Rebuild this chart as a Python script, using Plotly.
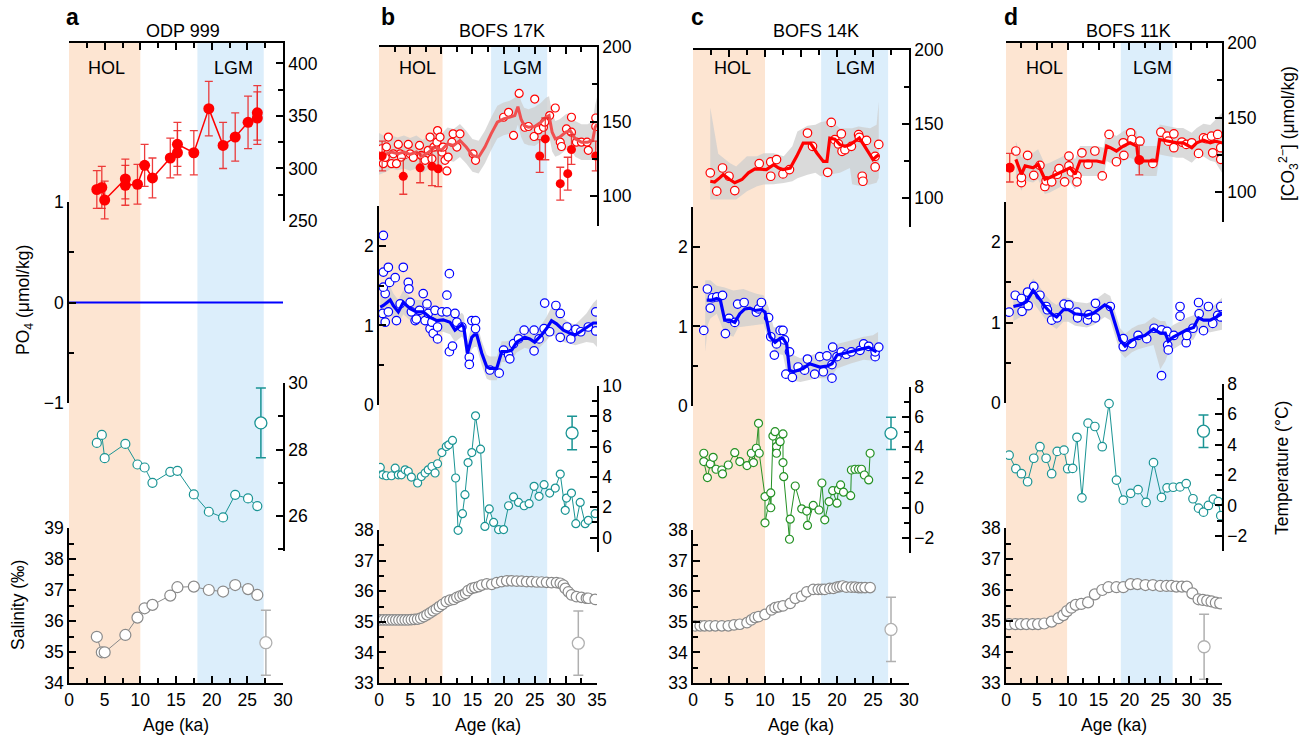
import plotly.graph_objects as go

W, H = 1304, 737

# ================= DATA =================
# ---- Panel a: ODP 999 ----
a_co3_age = [3.9, 4.6, 5.0, 7.9, 7.9, 9.6, 10.6, 11.7, 14.2, 15.2, 15.2, 17.5, 19.6, 21.6, 23.3, 25.1, 26.4, 26.4]
a_co3 = [280, 282, 270, 290, 284, 285, 303, 291, 310, 315, 323, 315, 357, 322, 330, 344, 348, 353]
a_co3_err = [18, 20, 18, 19, 19, 19, 20, 19, 19, 21, 21, 21, 26, 22, 23, 25, 25, 26]
a_po4_age = [0, 30]
a_po4 = [0, 0]
a_age = [3.9, 4.6, 5.0, 7.9, 9.6, 10.6, 11.7, 14.2, 15.2, 17.5, 19.6, 21.6, 23.3, 25.1, 26.4]
a_temp = [28.2, 28.44, 27.74, 28.17, 27.55, 27.46, 27.0, 27.33, 27.36, 26.65, 26.13, 25.96, 26.64, 26.53, 26.3]
a_sal = [35.49, 34.99, 34.99, 35.55, 36.11, 36.41, 36.52, 36.82, 37.09, 37.11, 37.0, 36.95, 37.16, 37.03, 36.84]
a_temp_err = [26.9, 28.8, 1.05]
a_sal_err = [27.6, 35.3, 1.05]

# ---- Panel b: BOFS 17K ----
b_co3_age = [0.4, 0.7, 1.0, 1.2, 1.5, 2.0, 2.3, 2.8, 3.1, 3.4, 3.6, 4.7, 5.0, 5.5, 6.5, 6.8, 7.4, 7.9, 8.2, 8.5,
             8.8, 9.3, 9.4, 9.8, 10.1, 10.3, 10.6, 10.9, 11.1, 11.7, 11.9, 12.5, 13.0, 15.1, 15.5, 20.0, 20.8, 21.6,
             22.5, 23.4, 24.0, 25.0, 24.9, 25.6, 26.4, 26.6, 27.4, 28.3, 29.1, 29.3, 30.1, 30.9, 30.9, 31.7, 32.5,
             33.4, 33.6, 34.8, 34.8]
b_co3 = [131.8, 121.8, 126, 133, 139.6, 121.8, 128.4, 121.8, 134.7, 128.4, 126.2, 134.7, 128.4, 126, 134, 127.3, 124,
         130.7, 139.6, 125, 132.9, 136.2, 144, 139.6, 129.6, 132.9, 124, 116.9, 126.2, 136.2, 141.8, 132.9, 141.8,
         128.4, 124, 152.9, 156.2, 140.7, 168.9, 146.2, 146.7, 165.1, 140, 144.4, 146.2, 149.6, 154, 159.1, 136.2,
         133.3, 145.1, 152.9, 142.9, 136.2, 136.2, 136.2, 130.7, 152.4, 146.7]
b_co3_line_age = [0, 1, 2, 3, 4, 5, 6, 7, 8, 9, 10, 11, 12, 13, 14, 15, 16, 17, 18, 19, 20, 21, 21.8, 22.3, 22.8,
                  23.3, 24, 25, 26, 26.8, 27.3, 27.8, 28.3, 29, 30, 30.7, 31.5, 32.5, 33.5, 34.3, 34.7, 35]
b_co3_line = [128.4, 128, 129.6, 128.4, 129.6, 128, 129.6, 126.7, 129.6, 132.9, 130.7, 135.1, 134, 137.3, 132.9,
              127.3, 126.2, 132.9, 141.8, 149.6, 151.8, 152.9, 154, 160, 151.8, 147.3, 146.2, 146.7, 149.6, 152.9,
              154, 142.9, 138.4, 139.6, 142.9, 144, 138.4, 136.2, 136.2, 137.3, 146.2, 148.4]
b_co3_hw = [14, 12, 11, 11, 11, 11, 11, 11, 11, 11, 11, 11, 11, 11, 11, 11, 11, 11, 11, 11,
            11, 11, 12, 12, 12, 12, 12, 13, 13, 13, 13, 13, 12, 12, 12, 12, 12, 12, 12, 13, 15, 18]
b_co3_fill_age = [0.5, 3.9, 6.6, 8.5, 9.5, 25.8, 26.7, 29.1, 30.3, 30.9, 34.8]
b_co3_fill = [126.9, 113.3, 119, 120, 118.4, 126.9, 138.4, 108.4, 115.1, 131.3, 126.9]
b_co3_fill_err = [10, 12, 10, 13, 12, 11, 14, 11, 11, 10, 10]
b_po4_age = [0.7, 0.7, 1.5, 1.0, 0.7, 1.7, 0.6, 1.0, 1.5, 2.6, 3.9, 2.8, 3.4, 4.7, 4.8, 5.0, 5.2, 5.8, 6.0, 6.5,
             7.1, 7.4, 7.7, 7.9, 8.2, 8.5, 8.7, 9.0, 9.4, 9.4, 10.1, 10.9, 10.9, 11.3, 11.3, 11.8, 12.2, 12.5, 13.3,
             14.5, 14.5, 14.9, 15.5, 15.5, 17.8, 19.3, 20.0, 20.8, 21.0, 21.6, 22.4, 23.3, 24.9, 24.9, 25.7, 26.5,
             26.6, 27.4, 28.4, 29.1, 29.1, 30.2, 30.8, 31.6, 32.4, 33.6, 34.8, 34.8]
b_po4 = [2.13, 1.67, 1.73, 1.40, 1.48, 1.54, 1.15, 1.04, 1.17, 1.60, 1.73, 1.06, 1.27, 1.54, 1.46, 1.29, 1.17, 1.06,
         1.08, 1.19, 1.40, 1.06, 1.27, 1.15, 0.96, 1.04, 0.90, 1.19, 0.98, 0.83, 1.17, 1.38, 1.17, 1.65, 0.67, 0.74,
         1.15, 1.04, 0.98, 0.60, 0.51, 1.06, 1.06, 0.96, 0.44, 0.40, 0.69, 0.63, 0.58, 0.77, 0.83, 0.94, 0.94, 0.68,
         0.83, 0.96, 1.28, 0.92, 1.25, 1.15, 0.85, 0.98, 0.83, 0.95, 0.92, 0.98, 1.17, 0.93]
b_po4_line_age = [0.2, 0.7, 1.8, 2.3, 3.1, 3.9, 5.0, 6.0, 7.1, 8.2, 9.3, 10.3, 11.4, 12.2, 13.3, 13.6, 14.2, 14.9,
                  15.3, 15.7, 16.5, 17.3, 17.8, 18.9, 19.7, 20.5, 21.3, 22.1, 23.4, 24.2, 25.0, 26.1, 26.9, 27.7,
                  28.5, 29.6, 30.7, 31.5, 32.3, 33.3, 34.4, 35.0]
b_po4_line = [1.23, 1.25, 1.32, 1.25, 1.17, 1.29, 1.21, 1.17, 1.17, 1.10, 1.06, 1.07, 1.04, 0.94, 1.01, 0.98, 0.65,
              0.85, 0.88, 0.88, 0.65, 0.48, 0.46, 0.46, 0.67, 0.67, 0.69, 0.79, 0.85, 0.83, 0.79, 0.88, 0.96, 1.06,
              1.02, 0.94, 0.90, 0.88, 0.92, 0.97, 1.03, 1.03]
b_po4_hw = [0.25, 0.2, 0.17, 0.15, 0.15, 0.15, 0.15, 0.15, 0.15, 0.15, 0.15, 0.15, 0.15, 0.15, 0.15, 0.15, 0.15,
            0.15, 0.15, 0.15, 0.15, 0.15, 0.15, 0.15, 0.13, 0.13, 0.13, 0.13, 0.13, 0.13, 0.13, 0.13, 0.15, 0.17,
            0.17, 0.15, 0.13, 0.13, 0.15, 0.18, 0.25, 0.3]
b_temp_age = [0.2, 0.6, 1.2, 2.0, 2.6, 3.1, 3.6, 4.2, 4.7, 5.2, 6.2, 6.8, 7.4, 7.9, 8.5, 9.0, 9.4, 10.1, 10.8, 11.2,
              11.8, 12.3, 12.7, 13.4, 13.8, 14.3, 14.9, 15.5, 16.3, 17.0, 17.7, 18.4, 19.2, 20.0, 20.8, 21.6, 22.4,
              23.3, 24.1, 24.9, 25.7, 26.5, 27.4, 28.3, 29.1, 29.9, 30.1, 30.9, 31.6, 32.3, 33.1, 33.6, 34.7]
b_temp = [4.63, 4.14, 4.08, 4.08, 4.58, 4.14, 4.14, 4.47, 4.36, 3.99, 3.6, 4.03, 4.26, 4.47, 4.69, 4.26, 4.87, 5.61,
          6.01, 6.12, 6.41, 3.93, 0.48, 1.58, 2.83, 4.95, 5.61, 8.03, 5.83, 0.74, 1.89, 1.0, 0.53, 0.53, 2.1, 2.68,
          2.32, 2.1, 2.24, 3.38, 2.72, 3.49, 2.94, 3.27, 4.19, 1.8, 2.61, 2.94, 0.92, 2.32, 0.92, 1.14, 1.58]
b_sal_age = [0.2, 0.7, 1.2, 1.7, 2.2, 2.7, 3.2, 3.7, 4.2, 4.7, 5.2, 5.7, 6.2, 6.7, 7.2, 7.7, 8.2, 8.7, 9.2, 9.7, 10.2,
             10.8, 11.4, 12.0, 12.5, 13.0, 13.5, 13.9, 14.3, 14.9, 15.4, 16.0, 16.5, 17.3, 18.1, 18.9, 19.7, 20.5,
             21.3, 22.1, 22.9, 23.7, 24.5, 25.3, 26.1, 26.9, 27.7, 28.5, 29.1, 29.6, 29.9, 30.4, 30.9, 31.7, 32.5,
             33.3, 33.6, 34.7]
b_sal = [35.06, 35.06, 35.06, 35.06, 35.06, 35.06, 35.06, 35.06, 35.06, 35.06, 35.07, 35.08, 35.09, 35.12, 35.17,
         35.23, 35.29, 35.36, 35.42, 35.5, 35.57, 35.66, 35.71, 35.73, 35.8, 35.84, 35.88, 35.93, 36.02, 36.09,
         36.12, 36.15, 36.2, 36.24, 36.22, 36.28, 36.31, 36.34, 36.34, 36.33, 36.33, 36.31, 36.31, 36.3, 36.3,
         36.29, 36.28, 36.28, 36.26, 36.2, 36.09, 35.98, 35.88, 35.82, 35.8, 35.77, 35.77, 35.73]
b_temp_err = [31.0, 6.9, 1.1]
b_sal_err = [32.0, 34.3, 1.05]

# ---- Panel c: BOFS 14K ----
c_co3_age = [2.4, 3.3, 4.1, 5.0, 5.8, 9.2, 10.8, 10.8, 11.6, 12.5, 13.4, 15.9, 16.6, 18.7, 19.2, 19.7, 20.2, 20.6,
             20.7, 21.1, 22.0, 23.0, 23.1, 24.1, 23.5, 23.6, 25.3, 25.3, 25.8]
c_co3 = [116.7, 104.3, 120, 114.4, 104.7, 123, 114.4, 124.1, 125.7, 116, 118.9, 143.7, 134.7, 117.1, 150.9, 139.2,
         136.3, 143.2, 131.3, 132.4, 134.7, 142.6, 140.8, 138.7, 114.4, 111, 120.7, 127.9, 136]
c_co3_line_age = [2.4, 3.0, 3.7, 4.2, 5.1, 5.8, 6.8, 7.7, 8.6, 9.3, 10.2, 11.2, 11.9, 12.5, 13.5, 14.4, 15.3, 16.3,
                  17.2, 18.1, 18.6, 19.0, 19.7, 20.4, 21.1, 21.8, 22.5, 23.1, 23.7, 24.4, 25.0, 25.5, 25.8]
c_co3_line = [111, 110.5, 113.3, 115.5, 112.2, 110, 112.2, 116.7, 119.4, 119.4, 118.9, 122.3, 120, 118.9, 120, 127.9,
              136.9, 136.9, 130.2, 124.5, 124.5, 140.3, 139.6, 135.8, 134.7, 135.8, 138.1, 140.3, 135.8, 130.2,
              125.7, 127.9, 129]
c_co3_band_age = [2.4, 3.5, 5.1, 6.0, 7.5, 8.9, 9.8, 11.2, 12.6, 13.8, 14.5, 15.9, 17.0, 17.7, 19.1, 20.4, 21.8,
                  22.1, 23.0, 24.6, 25.5, 25.8]
c_co3_band_hi = [161, 129.7, 123.4, 121, 127.9, 127.9, 130, 130, 127.9, 134.7, 144.8, 148.6, 149.3, 151, 152.3, 147,
                 147, 147, 148.2, 147, 149.3, 165]
c_co3_band_lo = [98.6, 98.6, 98.6, 98.6, 104.3, 107.7, 108.8, 109, 109.9, 111, 113, 115.5, 116.7, 114.4, 115.5,
                 116.7, 120, 109, 108, 108.8, 110, 113.3]
c_po4_age = [1.5, 2.0, 2.4, 2.7, 3.3, 4.1, 4.5, 5.0, 5.8, 6.2, 7.1, 8.8, 9.1, 9.5, 10.5, 10.8, 11.3, 11.6, 12.1, 12.5,
             12.7, 13.4, 12.9, 13.8, 14.6, 15.5, 15.9, 16.9, 17.6, 18.1, 18.6, 19.3, 19.4, 19.3, 20.0, 20.6, 21.3,
             22.0, 23.2, 23.7, 24.4, 25.3, 25.3, 25.8]
c_po4 = [0.95, 1.47, 1.23, 1.36, 1.37, 1.39, 0.91, 1.10, 1.05, 1.28, 1.30, 1.18, 1.22, 1.30, 1.11, 0.87, 0.64, 0.78,
         0.95, 0.95, 0.83, 0.68, 0.40, 0.36, 0.49, 0.45, 0.59, 0.40, 0.62, 0.43, 0.63, 0.35, 0.74, 0.52, 0.62, 0.68,
         0.65, 0.68, 0.70, 0.78, 0.75, 0.62, 0.68, 0.74]
c_po4_line_age = [1.9, 2.6, 3.3, 3.8, 4.4, 5.1, 5.8, 6.5, 7.2, 7.9, 8.6, 9.5, 10.0, 10.7, 11.4, 12.1, 12.5, 13.0, 13.4,
                  13.9, 14.6, 15.3, 16.2, 16.9, 17.6, 18.6, 19.3, 20.0, 20.9, 21.8, 22.7, 23.7, 24.4, 25.1, 25.5]
c_po4_line = [1.33, 1.33, 1.35, 1.33, 1.08, 1.08, 1.05, 1.16, 1.22, 1.23, 1.2, 1.21, 1.18, 0.87, 0.80, 0.85, 0.85,
              0.78, 0.45, 0.43, 0.45, 0.47, 0.53, 0.51, 0.49, 0.50, 0.53, 0.64, 0.66, 0.68, 0.70, 0.73, 0.74, 0.70,
              0.68]
c_po4_band_age = [1.7, 2.1, 2.4, 3.3, 4.4, 5.6, 6.3, 7.0, 7.9, 8.8, 9.8, 10.5, 11.2, 11.6, 12.5, 13.2, 13.5, 14.9,
                  17.2, 18.6, 19.0, 20.0, 21.8, 23.7, 25.0, 25.7]
c_po4_band_hi = [1.58, 1.58, 1.58, 1.51, 1.49, 1.45, 1.46, 1.47, 1.44, 1.41, 1.39, 1.24, 0.99, 0.99, 1.01, 0.85, 0.66,
                 0.6, 0.66, 0.68, 0.7, 0.78, 0.82, 0.87, 0.89, 0.93]
c_po4_band_lo = [0.68, 1.03, 1.1, 1.16, 0.91, 0.87, 0.99, 1.0, 1.01, 1.02, 1.03, 0.83, 0.72, 0.66, 0.64, 0.33, 0.32,
                 0.30, 0.35, 0.35, 0.35, 0.47, 0.53, 0.58, 0.57, 0.58]
c_temp_age = [1.5, 1.5, 2.0, 2.4, 2.8, 3.2, 4.0, 4.1, 4.9, 5.8, 6.5, 7.5, 8.1, 8.4, 8.8, 9.1, 9.2, 10.0, 10.0, 10.8,
              10.8, 11.1, 11.4, 11.6, 11.6, 12.1, 12.5, 12.5, 12.6, 13.4, 13.5, 14.2, 15.1, 15.8, 15.9, 16.7, 17.5,
              17.9, 18.3, 18.9, 19.4, 20.0, 20.2, 20.5, 20.9, 21.9, 22.0, 22.5, 23.0, 23.4, 23.8, 24.4, 24.6]
c_temp = [3.61, 3.06, 2.0, 2.9, 3.34, 2.55, 2.5, 2.24, 2.83, 3.65, 3.06, 2.79, 3.61, 2.99, 3.94, 5.59, 3.61, 0.74,
          -1.0, 0.98, 0.0, 4.75, 5.04, 4.05, 3.61, 4.38, 4.89, 2.99, 2.06, -2.09, -0.76, 1.44, -0.07, -0.22, -1.17,
          0.15, -0.15, 1.64, -0.8, 0.41, 1.13, 0.3, 1.2, 1.51, 1.03, 0.8, 2.5, 2.55, 2.55, 2.55, 2.17, 1.84, 3.61]
c_sal_age = [0.3, 1.0, 1.6, 2.3, 3.1, 4.0, 4.9, 5.7, 6.5, 7.5, 8.1, 8.6, 9.1, 10.0, 10.9, 11.4, 11.9, 12.5, 13.5, 14.2,
             15.1, 15.8, 16.7, 17.4, 17.9, 18.3, 19.0, 19.5, 20.0, 20.4, 20.8, 21.3, 22.0, 22.5, 23.0, 23.4, 23.9, 24.6]
c_sal = [34.87, 34.87, 34.87, 34.87, 34.87, 34.87, 34.87, 34.9, 34.92, 34.97, 35.06, 35.14, 35.17, 35.24, 35.39,
         35.46, 35.49, 35.52, 35.6, 35.77, 35.84, 35.98, 36.06, 36.06, 36.06, 36.06, 36.09, 36.09, 36.13, 36.15,
         36.17, 36.13, 36.13, 36.13, 36.12, 36.12, 36.12, 36.12]
c_temp_err = [27.5, 4.93, 1.07]
c_sal_err = [27.5, 34.75, 1.05]

# ---- Panel d: BOFS 11K ----
d_co3_age = [1.6, 2.5, 2.5, 3.5, 4.5, 5.5, 6.3, 6.5, 7.4, 8.3, 8.6, 9.5, 10.2, 10.2, 10.6, 11.5, 11.5, 12.3, 13.3,
             14.4, 15.6, 16.7, 17.9, 19.0, 19.1, 20.2, 20.4, 21.7, 23.8, 25.1, 26.1, 26.3, 27.2, 27.2, 28.5, 29.2,
             30.1, 31.2, 32.0, 32.5, 33.3, 33.5, 34.3, 34.8, 34.8]
d_co3 = [127.6, 106.4, 109.8, 124.7, 111.3, 118, 103.8, 107.6, 106.9, 112, 115.8, 106.9, 124.2, 117.6, 113.6, 110.9,
         106.9, 126.4, 118.7, 127.6, 110.9, 138.7, 120.4, 133.1, 124.7, 139.8, 135.3, 134.2, 119.3, 140.2, 137.6,
         134.2, 139.1, 129.8, 133.6, 132, 133.1, 126, 136.4, 135.8, 137.6, 126.4, 138.7, 122, 129.8]
d_co3_line_age = [1.6, 2.5, 3.1, 4.4, 5.2, 6.3, 7.1, 8.2, 9.6, 10.4, 11.2, 12.0, 13.3, 14.7, 15.8, 16.3, 16.9, 17.9,
                  19.0, 20.1, 21.2, 21.4, 22.3, 23.6, 24.4, 24.9, 26.1, 27.7, 28.7, 30.1, 30.9, 32.0, 33.1, 33.9, 35.0]
d_co3_line = [122, 112, 117.6, 116.4, 118.7, 108.7, 109.8, 112, 115.3, 116.4, 112, 120.9, 120.9, 120.9, 119.8, 130.9,
              129.8, 127.6, 130.9, 133.1, 130.9, 123.1, 120.9, 120.9, 120.9, 135.3, 134.2, 133.1, 133.1, 129.8,
              133.1, 134.9, 133.1, 134.2, 133.1]
d_co3_hw = [12, 11, 10, 10, 10, 10, 10, 10, 10, 10, 10, 10, 10, 10, 10, 10, 10, 10, 10, 10,
            10, 10, 10, 10, 10, 10, 10, 10, 10, 10, 10, 11, 12, 14, 20]
d_co3_fill_age = [0.6, 21.6]
d_co3_fill = [116.4, 121.6]
d_co3_fill_err = [9.6, 10]
d_po4_age = [0.5, 1.5, 2.5, 2.6, 3.5, 3.6, 4.5, 5.5, 6.5, 6.7, 7.4, 8.3, 9.4, 10.2, 11.5, 11.6, 13.2, 13.4, 14.5,
             14.5, 16.9, 19.0, 19.0, 20.4, 21.4, 22.8, 24.0, 25.2, 25.2, 26.1, 26.2, 26.3, 27.2, 28.2, 28.2, 29.2,
             29.3, 30.3, 31.2, 31.3, 32.0, 32.8, 33.5, 34.3, 34.8, 34.8]
d_po4 = [1.13, 1.34, 1.30, 1.14, 1.38, 1.21, 1.45, 1.34, 1.2, 1.16, 1.03, 1.06, 1.23, 1.22, 1.13, 1.06, 1.03, 1.1,
         1.06, 1.24, 1.2, 0.8, 0.7, 0.74, 0.84, 0.8, 0.93, 0.91, 0.34, 0.89, 0.72, 0.66, 0.84, 1.2, 1.08, 0.75, 0.84,
         0.93, 1.25, 1.11, 0.9, 1.2, 0.99, 1.09, 1.2, 1.07]
d_po4_line_age = [1.2, 2.3, 3.3, 4.4, 5.2, 6.3, 7.4, 8.2, 9.3, 10.1, 11.2, 12.0, 13.1, 14.2, 15.2, 16.0, 16.9, 17.7,
                  18.5, 19.3, 20.4, 21.4, 22.5, 23.9, 25.0, 25.8, 26.3, 27.1, 28.2, 29.3, 30.4, 31.2, 32.0, 33.1,
                  34.1, 35.0]
d_po4_line = [1.2, 1.22, 1.26, 1.4, 1.32, 1.2, 1.11, 1.07, 1.16, 1.16, 1.11, 1.1, 1.09, 1.12, 1.18, 1.22, 1.18, 0.99,
              0.78, 0.71, 0.78, 0.82, 0.84, 0.92, 0.87, 0.87, 0.77, 0.82, 0.87, 0.91, 0.94, 1.06, 1.03, 1.03, 1.07,
              1.11]
d_po4_hw_up = [0.18, 0.15, 0.15, 0.15, 0.15, 0.15, 0.15, 0.15, 0.15, 0.15, 0.15, 0.15, 0.15, 0.15, 0.15, 0.15, 0.15,
               0.15, 0.15, 0.15, 0.15, 0.15, 0.15, 0.15, 0.15, 0.15, 0.15, 0.15, 0.15, 0.15, 0.15, 0.15, 0.15, 0.15,
               0.17, 0.2]
d_po4_hw_dn = [0.18, 0.15, 0.15, 0.15, 0.15, 0.15, 0.15, 0.15, 0.15, 0.15, 0.15, 0.15, 0.15, 0.15, 0.15, 0.15, 0.15,
               0.15, 0.15, 0.15, 0.15, 0.15, 0.15, 0.2, 0.45, 0.35, 0.15, 0.15, 0.15, 0.15, 0.15, 0.15, 0.15, 0.15,
               0.17, 0.2]
d_temp_age = [0.5, 1.6, 2.5, 3.5, 4.5, 5.5, 6.5, 7.4, 8.3, 9.4, 10.0, 10.8, 11.5, 12.3, 13.3, 14.4, 15.6, 16.7, 17.9,
              19.0, 20.2, 21.4, 22.7, 23.9, 25.2, 26.1, 27.1, 28.2, 29.2, 30.3, 31.2, 32.0, 32.8, 33.6, 34.4, 34.8]
d_temp = [3.31, 2.42, 2.09, 1.56, 3.11, 3.87, 3.11, 2.09, 3.56, 3.64, 2.42, 2.44, 4.49, 0.5, 5.42, 5.2, 3.87, 6.71,
          1.67, 0.35, 0.8, 1.04, 0.2, 2.82, 0.53, 1.16, 1.2, 1.22, 1.44, 0.44, -0.18, -0.44, 0.0, 0.42, 0.25, -0.67]
d_sal_age = [0.5, 1.5, 2.4, 3.3, 4.3, 5.2, 6.2, 7.4, 8.5, 9.3, 9.9, 10.6, 11.3, 12.2, 13.3, 14.4, 15.6, 16.6, 17.9,
             19.0, 20.2, 21.3, 22.6, 23.8, 25.0, 26.0, 26.8, 27.6, 28.5, 29.3, 30.2, 31.2, 31.9, 32.6, 33.3, 34.0, 34.7]
d_sal = [34.9, 34.9, 34.9, 34.9, 34.9, 34.9, 34.92, 34.98, 35.09, 35.19, 35.32, 35.43, 35.52, 35.55, 35.6, 35.86,
         36.0, 36.09, 36.09, 36.09, 36.19, 36.19, 36.16, 36.16, 36.13, 36.13, 36.13, 36.11, 36.11, 36.11, 35.89, 35.7,
         35.68, 35.66, 35.63, 35.59, 35.57]
d_temp_err = [32.0, 4.89, 1.07]
d_sal_err = [32.1, 34.17, 1.05]

# Period spans (ka) per panel and labels
hol_spans = [[0, 10], [0, 10.2], [0, 10], [0, 9.9]]
lgm_spans = [[18, 27.3], [18, 27], [17.8, 27.1], [18.6, 27]]
panel_letters = ['a', 'b', 'c', 'd']
panel_titles = ['ODP 999', 'BOFS 17K', 'BOFS 14K', 'BOFS 11K']

# ================= STYLE / LAYOUT =================
RED = '#FF0000'
BLUE = '#0000FF'
TEAL = '#1A9494'
GREEN = '#249124'
GRAY = '#8A8A8A'
ERRGRAY = '#B0B0B0'
BAND = 'rgba(205,205,205,0.75)'
HOLC = '#FDE5D2'
LGMC = '#DCEEFB'
FONT = 'Liberation Sans, Arial, Helvetica, sans-serif'
FS = 17.5

# pixel geometry of each panel (layout, not data)
geo = [
    dict(x=(69, 283), xr=[0, 30], co3=(43, 221), co3r=[250, 419.5], po4=(202, 403), po4r=[-1, 1],
         tmp=(383, 551), tmpr=[24.95, 30], sal=(528, 683), salr=[34, 39], hol_lab=5.3, lgm_lab=23.0),
    dict(x=(379, 597), xr=[0, 35], co3=(47, 226), co3r=[80, 200], po4=(206, 405), po4r=[0, 2.5],
         tmp=(386, 552), tmpr=[-0.95, 10], sal=(530, 683), salr=[33, 38], hol_lab=6.2, lgm_lab=23.0),
    dict(x=(693, 909), xr=[0, 30], co3=(50, 227), co3r=[80, 200], po4=(207, 406), po4r=[0, 2.5],
         tmp=(387, 553), tmpr=[-3, 8], sal=(530, 683), salr=[33, 38], hol_lab=5.5, lgm_lab=22.6),
    dict(x=(1006, 1222), xr=[0, 35], co3=(43, 222), co3r=[80, 200], po4=(202, 403), po4r=[0, 2.5],
         tmp=(384, 551), tmpr=[-3, 8], sal=(528, 683), salr=[33, 38], hol_lab=6.2, lgm_lab=23.7),
]


def dx(a, b):
    return [a / W, b / W]


def dy(top, bot):
    return [1 - bot / H, 1 - top / H]


def ref(p, n):
    return p if n == 1 else f'{p}{n}'


def lkey(p, n):
    return f'{p}axis' if n == 1 else f'{p}axis{n}'


fig = go.Figure()
layout = {}
shapes = []
annotations = []

axis_common = dict(showline=True, linecolor='black', linewidth=1.5, ticks='inside', ticklen=7, tickwidth=1.5,
                   tickcolor='black', showgrid=False, zeroline=False, automargin=False,
                   tickfont=dict(size=FS, family=FONT, color='black'), fixedrange=True)


def minor(d):
    return dict(dtick=d, ticks='inside', ticklen=5, tickwidth=1.5, tickcolor='black', showgrid=False)


def txt(text, x, y, xref='paper', size=FS, angle=0):
    annotations.append(dict(text=text, xref=xref, yref='paper', x=x, y=y, xanchor='center', yanchor='middle',
                            textangle=angle, showarrow=False, font=dict(size=size, family=FONT, color='black')))


def open_markers(xa, ya, x, y, color, size=8, mode='markers', lw=1.0):
    fig.add_trace(go.Scatter(x=x, y=y, xaxis=xa, yaxis=ya, mode=mode, line=dict(color=color, width=lw),
                             marker=dict(symbol='circle', size=size, color='white', line=dict(color=color, width=1.2)),
                             showlegend=False, hoverinfo='skip'))


def band(xa, ya, x, lo, hi):
    fig.add_trace(go.Scatter(x=list(x) + list(x)[::-1], y=list(hi) + list(lo)[::-1], xaxis=xa, yaxis=ya,
                             mode='lines', fill='toself', fillcolor=BAND, line=dict(width=0),
                             showlegend=False, hoverinfo='skip'))


def smooth(xa, ya, x, y, color, width=3.2):
    fig.add_trace(go.Scatter(x=x, y=y, xaxis=xa, yaxis=ya, mode='lines', line=dict(color=color, width=width),
                             showlegend=False, hoverinfo='skip'))


def filled_err(xa, ya, x, y, err, size=10, mode='markers', lw=1.5):
    fig.add_trace(go.Scatter(x=x, y=y, xaxis=xa, yaxis=ya, mode=mode, line=dict(color=RED, width=lw),
                             marker=dict(size=size, color=RED),
                             error_y=dict(type='data', array=err, color='rgba(235,40,40,0.9)', thickness=1.3, width=4),
                             showlegend=False, hoverinfo='skip'))


def err_point(xa, ya, e, color, size=12):
    fig.add_trace(go.Scatter(x=[e[0]], y=[e[1]], xaxis=xa, yaxis=ya, mode='markers',
                             marker=dict(size=size, color='white', line=dict(color=color, width=1.3)),
                             error_y=dict(type='data', array=[e[2]], color=color, thickness=1.5, width=5),
                             showlegend=False, hoverinfo='skip'))


for i, g in enumerate(geo):
    xb, xt = 2 * i + 1, 2 * i + 2
    yc, yp, yt, ys = 4 * i + 1, 4 * i + 2, 4 * i + 3, 4 * i + 4
    XB, XT = ref('x', xb), ref('x', xt)
    YC, YP, YT, YS = ref('y', yc), ref('y', yp), ref('y', yt), ref('y', ys)
    xd = dx(*g['x'])
    layout[lkey('x', xb)] = dict(domain=xd, range=g['xr'], anchor=YS, dtick=5, tick0=0, minor=minor(2.5),
                                 **axis_common)
    layout[lkey('x', xt)] = dict(domain=xd, range=g['xr'], anchor=YC, side='top', dtick=5, tick0=0,
                                 minor=minor(2.5), showticklabels=False, **axis_common)
    layout[lkey('y', yc)] = dict(domain=dy(*g['co3']), range=g['co3r'], anchor=XB, side='right', dtick=50, tick0=0,
                                 minor=minor(25), **axis_common)
    layout[lkey('y', yp)] = dict(domain=dy(*g['po4']), range=g['po4r'], anchor=XB, side='left', dtick=1, tick0=0,
                                 minor=minor(0.5), **axis_common)
    layout[lkey('y', yt)] = dict(domain=dy(*g['tmp']), range=g['tmpr'], anchor=XB, side='right', dtick=2, tick0=0,
                                 minor=minor(1), **axis_common)
    layout[lkey('y', ys)] = dict(domain=dy(*g['sal']), range=g['salr'], anchor=XB, side='left', dtick=1, tick0=0,
                                 minor=minor(0.5), **axis_common)
    fig.add_trace(go.Scatter(x=[None], y=[None], xaxis=XT, yaxis=YC, showlegend=False, hoverinfo='skip'))

    top_px = g['co3'][0]
    for span, col in ((hol_spans[i], HOLC), (lgm_spans[i], LGMC)):
        shapes.append(dict(type='rect', xref=XB, yref='paper', x0=span[0], x1=span[1], y0=1 - 683 / H,
                           y1=1 - top_px / H, fillcolor=col, line=dict(width=0), layer='below'))
    txt('HOL', g['hol_lab'], 1 - 68 / H, xref=XB, size=18)
    txt('LGM', g['lgm_lab'], 1 - 68 / H, xref=XB, size=18)
    lx = {0: 72, 1: 388, 2: 697, 3: 1011}[i]
    txt(f'<b>{panel_letters[i]}</b>', lx / W, 1 - 17 / H, size=23)
    tx = {0: 183, 1: 502, 2: 816, 3: 1128}[i]
    txt(panel_titles[i], tx / W, 1 - 31 / H, size=18)
    txt('Age (ka)', (xd[0] + xd[1]) / 2, 1 - 725 / H, size=FS)

    if i == 0:
        filled_err(XB, YC, a_co3_age, a_co3, a_co3_err, size=11, mode='lines+markers')
        smooth(XB, YP, a_po4_age, a_po4, BLUE, width=2.2)
        open_markers(XB, YT, a_age, a_temp, TEAL, size=9, mode='lines+markers')
        open_markers(XB, YS, a_age, a_sal, GRAY, size=11, mode='lines+markers')
        err_point(XB, YT, a_temp_err, TEAL)
        err_point(XB, YS, a_sal_err, ERRGRAY)
    elif i == 1:
        band(XB, YC, b_co3_line_age, [v - h for v, h in zip(b_co3_line, b_co3_hw)],
             [v + h for v, h in zip(b_co3_line, b_co3_hw)])
        open_markers(XB, YC, b_co3_age, b_co3, RED, size=8)
        smooth(XB, YC, b_co3_line_age, b_co3_line, '#F05050', width=3)
        filled_err(XB, YC, b_co3_fill_age, b_co3_fill, b_co3_fill_err, size=9)
        band(XB, YP, b_po4_line_age, [v - h for v, h in zip(b_po4_line, b_po4_hw)],
             [v + h for v, h in zip(b_po4_line, b_po4_hw)])
        open_markers(XB, YP, b_po4_age, b_po4, BLUE, size=8.5)
        smooth(XB, YP, b_po4_line_age, b_po4_line, BLUE, width=3.2)
        open_markers(XB, YT, b_temp_age, b_temp, TEAL, size=8, mode='lines+markers')
        open_markers(XB, YS, b_sal_age, b_sal, GRAY, size=10.5, mode='lines+markers')
        err_point(XB, YT, b_temp_err, TEAL)
        err_point(XB, YS, b_sal_err, ERRGRAY)
    elif i == 2:
        band(XB, YC, c_co3_band_age, c_co3_band_lo, c_co3_band_hi)
        open_markers(XB, YC, c_co3_age, c_co3, RED, size=8.5)
        smooth(XB, YC, c_co3_line_age, c_co3_line, RED, width=3.2)
        band(XB, YP, c_po4_band_age, c_po4_band_lo, c_po4_band_hi)
        open_markers(XB, YP, c_po4_age, c_po4, BLUE, size=8.5)
        smooth(XB, YP, c_po4_line_age, c_po4_line, BLUE, width=3.2)
        open_markers(XB, YT, c_temp_age, c_temp, GREEN, size=8, mode='lines+markers')
        open_markers(XB, YS, c_sal_age, c_sal, GRAY, size=10.5, mode='lines+markers')
        err_point(XB, YT, c_temp_err, TEAL)
        err_point(XB, YS, c_sal_err, ERRGRAY)
    else:
        band(XB, YC, d_co3_line_age, [v - h for v, h in zip(d_co3_line, d_co3_hw)],
             [v + h for v, h in zip(d_co3_line, d_co3_hw)])
        open_markers(XB, YC, d_co3_age, d_co3, RED, size=8.5)
        smooth(XB, YC, d_co3_line_age, d_co3_line, RED, width=3.2)
        filled_err(XB, YC, d_co3_fill_age, d_co3_fill, d_co3_fill_err, size=10)
        band(XB, YP, d_po4_line_age, [v - h for v, h in zip(d_po4_line, d_po4_hw_dn)],
             [v + h for v, h in zip(d_po4_line, d_po4_hw_up)])
        open_markers(XB, YP, d_po4_age, d_po4, BLUE, size=8.5)
        smooth(XB, YP, d_po4_line_age, d_po4_line, BLUE, width=3.2)
        open_markers(XB, YT, d_temp_age, d_temp, TEAL, size=8.5, mode='lines+markers')
        open_markers(XB, YS, d_sal_age, d_sal, GRAY, size=11, mode='lines+markers')
        err_point(XB, YT, d_temp_err, TEAL)
        err_point(XB, YS, d_sal_err, ERRGRAY)

# outer axis titles
txt('PO<sub>4</sub> (μmol/kg)', 25 / W, 1 - 300 / H, angle=-90)
txt('Salinity (‰)', 18 / W, 1 - 605 / H, angle=-90)
txt('[CO<sub>3</sub><sup>2−</sup>] (μmol/kg)', 1288 / W, 1 - 134 / H, angle=-90)
txt('Temperature (°C)', 1282 / W, 1 - 468 / H, angle=-90)

fig.update_layout(width=W, height=H, autosize=False, margin=dict(l=0, r=0, t=0, b=0, pad=0, autoexpand=False),
                  paper_bgcolor='white', plot_bgcolor='rgba(0,0,0,0)', showlegend=False, hovermode=False,
                  font=dict(family=FONT, size=FS, color='black'), shapes=shapes, annotations=annotations, **layout)

fig.write_html('out.html', config={'responsive': False, 'displayModeBar': False})
